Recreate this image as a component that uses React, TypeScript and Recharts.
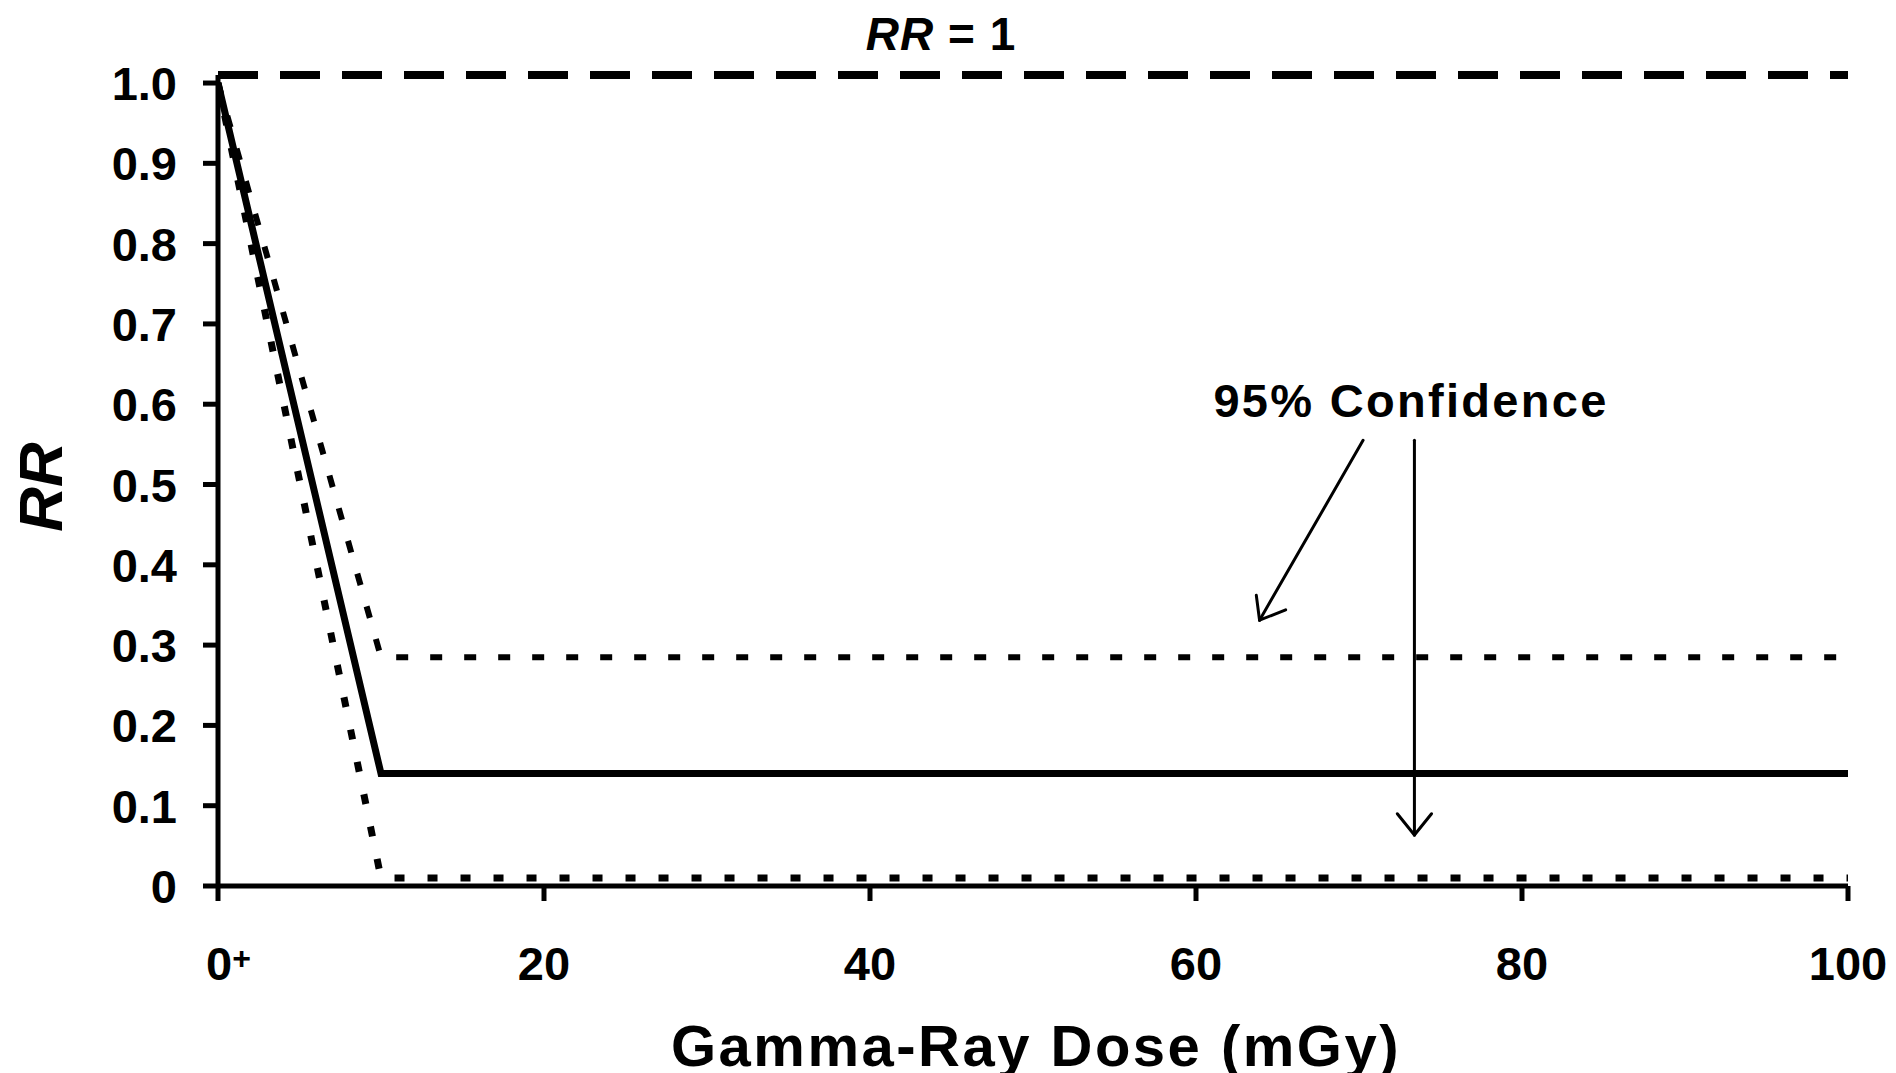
import React from 'react';
import { LineChart, Line, XAxis, YAxis, ReferenceLine } from 'recharts';

// ---- data ----
const doses = [0, 10, 100];
const rrEstimate = [1.0, 0.14, 0.14];
const rrUpper95 = [1.0, 0.285, 0.285];
const rrLower95 = [1.0, 0.01, 0.01];
const rrReferenceLevel = 1.01;

const xTicks = [0, 20, 40, 60, 80, 100];
const xTickLabels = ['0', '20', '40', '60', '80', '100'];
const yTicks = [0, 0.1, 0.2, 0.3, 0.4, 0.5, 0.6, 0.7, 0.8, 0.9, 1.0];
const yTickLabels = ['0', '0.1', '0.2', '0.3', '0.4', '0.5', '0.6', '0.7', '0.8', '0.9', '1.0'];

// annotation arrows, in data coordinates [dose, RR]
const arrowUpperShaft = [[70.25, 0.555], [63.9, 0.331]];
const arrowUpperHead = [[63.7, 0.362], [63.9, 0.331], [65.5, 0.344]];
const arrowLowerShaft = [[73.4, 0.555], [73.4, 0.0635]];
const arrowLowerHead = [[72.35, 0.09], [73.4, 0.0635], [74.45, 0.09]];

const data = doses.map((d, i) => ({
  dose: d,
  estimate: rrEstimate[i],
  upper: rrUpper95[i],
  lower: rrLower95[i],
}));

const FONT = '"Liberation Sans", Arial, Helvetica, sans-serif';

const XTick = (props: any) => {
  const { x, y, payload } = props;
  const idx = xTicks.indexOf(payload.value);
  const label = idx >= 0 ? xTickLabels[idx] : String(payload.value);
  const baseY = y + 79;
  if (payload.value === 0) {
    return (
      <text x={x - 12} y={baseY} textAnchor="start" fontFamily={FONT} fontWeight="bold" fontSize={47} fill="#000">
        <tspan>{label}</tspan>
        <tspan fontSize={32} dy={-11}>+</tspan>
      </text>
    );
  }
  return (
    <text x={x} y={baseY} textAnchor="middle" fontFamily={FONT} fontWeight="bold" fontSize={47} fill="#000">
      {label}
    </text>
  );
};

const YTick = (props: any) => {
  const { x, y, payload } = props;
  const idx = yTicks.findIndex((t) => Math.abs(t - payload.value) < 1e-9);
  const label = idx >= 0 ? yTickLabels[idx] : String(payload.value);
  return (
    <text x={x - 26} y={y + 17} textAnchor="end" fontFamily={FONT} fontWeight="bold" fontSize={47} fill="#000">
      {label}
    </text>
  );
};

const XTitle = () => (
  <text x={1036} y={1066} textAnchor="middle" fontFamily={FONT} fontWeight="bold" fontSize={58} letterSpacing={2.5} fill="#000">
    Gamma-Ray Dose (mGy)
  </text>
);

const YTitle = () => (
  <text
    x={62}
    y={487}
    transform="rotate(-90, 62, 487)"
    textAnchor="middle"
    fontFamily={FONT}
    fontWeight="bold"
    fontStyle="italic"
    fontSize={62}
    fill="#000"
  >
    RR
  </text>
);

const TopTitle = () => (
  <text x={941} y={50} textAnchor="middle" fontFamily={FONT} fontWeight="bold" fontSize={46} letterSpacing={1} fill="#000">
    <tspan fontStyle="italic">RR</tspan>
    <tspan> = 1</tspan>
  </text>
);

const ConfidenceLabel = () => (
  <text x={1411} y={417} textAnchor="middle" fontFamily={FONT} fontWeight="bold" fontSize={47} letterSpacing={2.3} fill="#000">
    95% Confidence
  </text>
);

const segs = (pts: number[][]) => {
  const out: { x: number; y: number }[][] = [];
  for (let i = 0; i < pts.length - 1; i++) {
    out.push([
      { x: pts[i][0], y: pts[i][1] },
      { x: pts[i + 1][0], y: pts[i + 1][1] },
    ]);
  }
  return out;
};

export default function App() {
  const arrowSegments = [
    ...segs(arrowUpperShaft),
    ...segs(arrowUpperHead),
    ...segs(arrowLowerShaft),
    ...segs(arrowLowerHead),
  ];
  return (
    <div style={{ position: 'absolute', left: 0, top: 0, width: 1896, height: 1073, background: '#fff' }}>
      <LineChart
        width={1896}
        height={1073}
        data={data}
        margin={{ top: 75, right: 48, bottom: 0, left: 0 }}
      >
        <XAxis
          type="number"
          dataKey="dose"
          domain={[0, 100]}
          ticks={xTicks}
          allowDataOverflow
          height={187}
          tickSize={15}
          tickMargin={0}
          tick={<XTick />}
          axisLine={{ stroke: '#000', strokeWidth: 5 }}
          tickLine={{ stroke: '#000', strokeWidth: 5 }}
          label={<XTitle />}
        />
        <YAxis
          type="number"
          domain={[0, rrReferenceLevel]}
          ticks={yTicks}
          allowDataOverflow
          width={218}
          tickSize={15}
          tickMargin={0}
          tick={<YTick />}
          axisLine={{ stroke: '#000', strokeWidth: 5 }}
          tickLine={{ stroke: '#000', strokeWidth: 5 }}
          label={<YTitle />}
        />
        <ReferenceLine
          y={rrReferenceLevel}
          stroke="#000"
          strokeWidth={8}
          strokeDasharray="40 22"
          ifOverflow="visible"
          label={<TopTitle />}
        />
        <Line
          type="linear"
          dataKey="upper"
          stroke="#000"
          strokeWidth={6}
          strokeDasharray="12 22"
          dot={false}
          activeDot={false}
          isAnimationActive={false}
        />
        <Line
          type="linear"
          dataKey="lower"
          stroke="#000"
          strokeWidth={7}
          strokeDasharray="10 23"
          dot={false}
          activeDot={false}
          isAnimationActive={false}
        />
        <Line
          type="linear"
          dataKey="estimate"
          stroke="#000"
          strokeWidth={7}
          dot={false}
          activeDot={false}
          isAnimationActive={false}
        />
        {arrowSegments.map((s, i) => (
          <ReferenceLine
            key={'arrow' + i}
            segment={s}
            stroke="#000"
            strokeWidth={3}
            strokeLinecap="round"
            ifOverflow="visible"
            label={i === 0 ? <ConfidenceLabel /> : undefined}
          />
        ))}
      </LineChart>
    </div>
  );
}
